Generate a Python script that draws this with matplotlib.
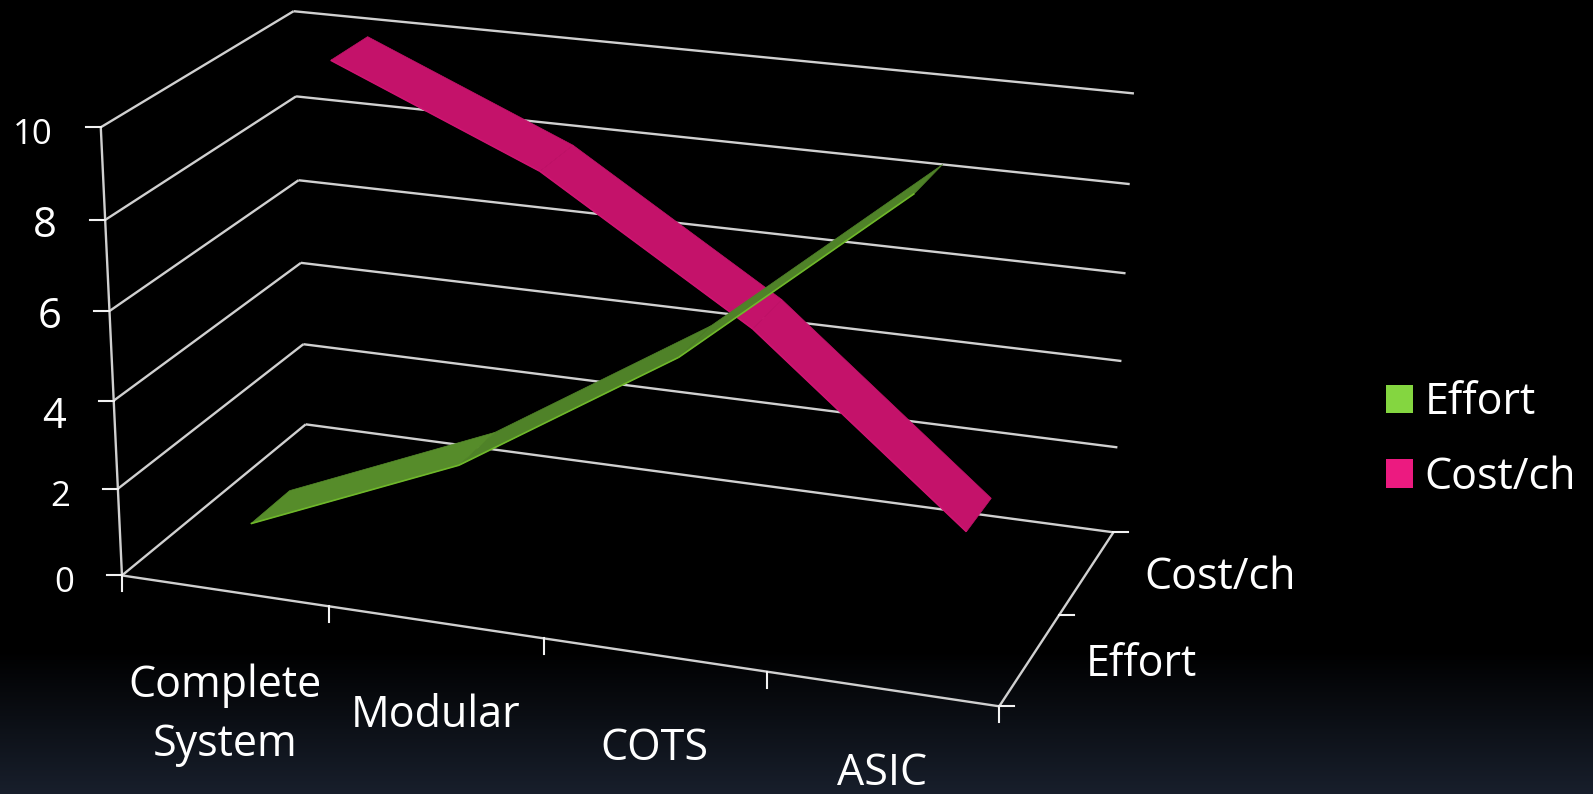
import numpy as np
import matplotlib
matplotlib.use("Agg")
import matplotlib.pyplot as plt
from matplotlib.patches import Patch
from mpl_toolkits.mplot3d.art3d import Line3DCollection, Poly3DCollection

plt.rcParams['font.family'] = ['Open Sans', 'DejaVu Sans']

categories = ['Complete\nSystem', 'Modular', 'COTS', 'ASIC']
series_names = ['Effort', 'Cost/ch']
effort = [1, 3, 6, 10]
cost_per_ch = [10, 8, 5, 1]
z_ticks = [0, 2, 4, 6, 8, 10]

W, H = 1593, 794

# box corners (category, series, value) and where they land on the canvas
box_corners = [(0, 0, 0), (0, 0, 10), (0, 2, 0), (0, 2, 10), (4, 2, 0), (4, 2, 10), (4, 0, 0)]
canvas_corners = [(121.7, 575.7), (101, 127.3), (306, 424), (293.3, 11.3),
                  (1113.3, 532.7), (1134, 93.3), (999.3, 706)]


def fit_camera(world, image):
    rows = []
    for (X, Y, Z), (u, v) in zip(world, image):
        v = H - v
        rows.append([X, Y, Z, 1, 0, 0, 0, 0, -u*X, -u*Y, -u*Z, -u])
        rows.append([0, 0, 0, 0, X, Y, Z, 1, -v*X, -v*Y, -v*Z, -v])
    return np.linalg.svd(np.array(rows))[2][-1].reshape(3, 4)


P = fit_camera(box_corners, canvas_corners)


def to_px(X, Y, Z):
    u, v, w = P @ np.array([X, Y, Z, 1.0])
    return u / w, H - v / w


fig = plt.figure(figsize=(W / 100, H / 100), dpi=100, facecolor='black')

# dark navy fade along the bottom of the slide
bg = fig.add_axes([0, 0, 1, 1], zorder=0)
ramp = np.clip((np.arange(H) - 650) / (H - 650), 0, 1)
rgb = np.stack([ramp * 24, ramp * 31, ramp * 44], axis=1)[:, None, :] / 255
bg.imshow(rgb, aspect='auto', extent=(0, W, H, 0))
bg.axis('off')

ax = fig.add_axes([0, 0, 1, 1], projection='3d', computed_zorder=False, zorder=1)
ax.set_axis_off()
ax.patch.set_facecolor('none')
ax.apply_aspect = lambda position=None: None
inv_a = np.linalg.inv(ax.transData.get_affine().get_matrix())
Q = inv_a @ P
M = np.array([Q[0], Q[1], [0, 1, 0, 0], Q[2]])
ax.get_proj = lambda: M

grid_color = '#d0d0d0'
grid = [[(0, 0, 0), (0, 0, 10)], [(0, 0, 0), (4, 0, 0)], [(4, 0, 0), (4, 2, 0)]]
for z in z_ticks:
    grid.append([(0, 0, z), (0, 2, z)])
    grid.append([(0, 2, z), (4, 2, z)])
ax.add_collection3d(Line3DCollection(grid, colors=grid_color, linewidths=1.7, zorder=1))


def ribbon(values, row, faces, edge, order):
    x = np.arange(len(values)) + 0.5
    y0, y1 = row + 0.29, row + 0.71
    quads = []
    front = []
    for i in range(len(values) - 1):
        quads.append([(x[i], y0, values[i]), (x[i + 1], y0, values[i + 1]),
                      (x[i + 1], y1, values[i + 1]), (x[i], y1, values[i])])
        front.append([(x[i], y0, values[i]), (x[i + 1], y0, values[i + 1])])
    ax.add_collection3d(Poly3DCollection(quads, facecolors=faces, edgecolors=faces,
                                         linewidths=0.5, zorder=order))
    ax.add_collection3d(Line3DCollection(front, colors=edge, linewidths=1.2, zorder=order + 0.1))


ribbon(cost_per_ch, 1, ['#c4126a'] * 3, '#cf1472', 2)
ribbon(effort, 0, ['#568c2a', '#4f8228', '#4f8228'], '#6fb82a', 3)

overlay = fig.add_axes([0, 0, 1, 1], zorder=2)
overlay.set_xlim(0, W)
overlay.set_ylim(H, 0)
overlay.axis('off')
overlay.patch.set_alpha(0)

tick_color = '#f2f2f2'
text_size = 31
for z in z_ticks:
    px, py = to_px(0, 0, z)
    overlay.plot([px - 15, px], [py, py], color=tick_color, lw=1.5)
    overlay.text(px - 48, py + (27 if z == 4 else 17), str(z), color='white', ha='right', va='baseline',
                 fontsize=25 if z in (0, 2, 10) else 30)
for i in range(len(categories) + 1):
    px, py = to_px(i, 0, 0)
    overlay.plot([px, px], [py, py + 16], color=tick_color, lw=1.5)
for j in range(len(series_names) + 1):
    px, py = to_px(4, j, 0)
    overlay.plot([px, px + 15], [py, py], color=tick_color, lw=1.5)

label_baselines = [756, 727, 760, 785]
for i, name in enumerate(categories):
    px, py = to_px(i + 0.5, 0, 0)
    for k, line in enumerate(reversed(name.split('\n'))):
        overlay.text(px, label_baselines[i] - 59 * k, line, color='white', ha='center',
                     va='baseline', fontsize=text_size)

overlay.text(1086, 676, series_names[0], color='white', va='baseline', fontsize=text_size)
overlay.text(1144, 589, series_names[1], color='white', va='baseline', fontsize=text_size)

handles = [Patch(facecolor='#84d640', label=series_names[0]),
           Patch(facecolor='#ec1a80', label=series_names[1])]
overlay.legend(handles=handles, loc='center left', bbox_to_anchor=(1347 / W, 1 - 440 / H),
               bbox_transform=fig.transFigure, frameon=False, labelcolor='white', fontsize=text_size,
               handlelength=0.63, handleheight=0.63, handletextpad=0.27, labelspacing=0.7)

fig.savefig('out.png', dpi=100, facecolor=fig.get_facecolor())
